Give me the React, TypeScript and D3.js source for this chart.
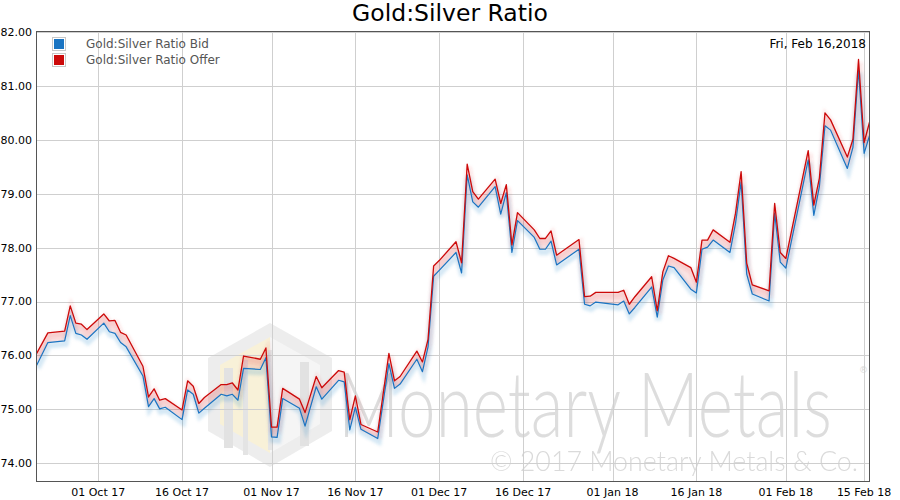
import React from "react";
import * as d3 from "d3";

const dates: string[] = [
  "2017-09-20","2017-09-22","2017-09-25","2017-09-26","2017-09-27","2017-09-28","2017-09-29","2017-10-02","2017-10-03","2017-10-04",
  "2017-10-05","2017-10-06","2017-10-09","2017-10-10","2017-10-11","2017-10-12","2017-10-13","2017-10-16","2017-10-17","2017-10-18",
  "2017-10-19","2017-10-20","2017-10-23","2017-10-24","2017-10-25","2017-10-26","2017-10-27","2017-10-30","2017-10-31","2017-11-01",
  "2017-11-02","2017-11-03","2017-11-06","2017-11-07","2017-11-09","2017-11-10","2017-11-13","2017-11-14","2017-11-15","2017-11-16",
  "2017-11-17","2017-11-20","2017-11-22","2017-11-23","2017-11-24","2017-11-27","2017-11-28","2017-11-29","2017-11-30","2017-12-01",
  "2017-12-04","2017-12-05","2017-12-06","2017-12-07","2017-12-08","2017-12-11","2017-12-12","2017-12-13","2017-12-14","2017-12-15",
  "2017-12-18","2017-12-19","2017-12-20","2017-12-21","2017-12-22","2017-12-26","2017-12-27","2017-12-28","2017-12-29","2018-01-02",
  "2018-01-03","2018-01-04","2018-01-05","2018-01-08","2018-01-09","2018-01-10","2018-01-11","2018-01-12","2018-01-15","2018-01-16",
  "2018-01-17","2018-01-18","2018-01-19","2018-01-22","2018-01-23","2018-01-24","2018-01-25","2018-01-26","2018-01-29","2018-01-30",
  "2018-01-31","2018-02-01","2018-02-05","2018-02-06","2018-02-07","2018-02-08","2018-02-09","2018-02-12","2018-02-13","2018-02-14",
  "2018-02-15","2018-02-16",
];

const offer: number[] = [
  76.04,76.42,76.45,76.92,76.60,76.58,76.48,76.77,76.64,76.65,
  76.43,76.38,75.80,75.23,75.38,75.17,75.20,74.99,75.53,75.43,
  75.11,75.22,75.46,75.46,75.49,75.36,75.99,75.93,76.14,74.67,
  74.67,75.39,75.19,74.94,75.61,75.40,75.72,75.69,74.81,75.25,
  74.72,74.58,76.04,75.53,75.61,76.08,75.88,76.30,77.66,77.76,
  78.11,77.72,79.55,79.04,78.90,79.27,78.82,79.17,78.05,78.65,
  78.33,78.17,78.17,78.31,77.86,78.15,77.09,77.10,77.17,77.17,
  77.21,76.95,77.09,77.46,76.83,77.55,77.85,77.80,77.63,77.36,
  78.14,78.14,78.33,78.10,78.64,79.41,77.71,77.31,77.20,78.82,
  77.91,77.80,79.80,78.79,79.29,80.50,80.37,79.68,80.01,81.49,
  79.95,80.34,
];

const bid: number[] = [
  75.82,76.24,76.27,76.74,76.41,76.38,76.30,76.60,76.44,76.41,
  76.24,76.16,75.62,75.05,75.20,75.01,75.04,74.81,75.36,75.28,
  74.93,75.02,75.28,75.25,75.28,75.17,75.76,75.74,75.96,74.49,
  74.48,75.20,75.02,74.69,75.42,75.19,75.54,75.51,74.62,75.04,
  74.63,74.46,75.85,75.39,75.47,75.93,75.70,76.16,77.47,77.58,
  77.91,77.53,79.35,78.85,78.75,79.13,78.62,79.02,77.91,78.50,
  78.19,77.97,77.97,78.12,77.68,77.97,76.95,76.92,76.99,76.94,
  77.01,76.77,76.89,77.27,76.71,77.40,77.66,77.63,77.23,77.16,
  77.97,78.01,78.14,77.91,78.45,79.22,77.51,77.14,77.01,78.64,
  77.73,77.62,79.63,78.60,79.13,80.26,80.18,79.47,79.86,81.30,
  79.75,80.09,
];

const yTicks: number[] = [74, 75, 76, 77, 78, 79, 80, 81, 82];
const xTicks: string[] = ["2017-10-01","2017-10-16","2017-11-01","2017-11-16","2017-12-01","2017-12-16","2018-01-01","2018-01-16","2018-02-01","2018-02-15"];
const xTickLabels: string[] = ["01 Oct 17","16 Oct 17","01 Nov 17","16 Nov 17","01 Dec 17","16 Dec 17","01 Jan 18","16 Jan 18","01 Feb 18","15 Feb 18"];
const seriesNames: string[] = ["Gold:Silver Ratio Bid", "Gold:Silver Ratio Offer"];
const seriesColors: string[] = ["#1a74c2", "#cc0a0a"];

const parse = d3.utcParse("%Y-%m-%d");
const FONT = "DejaVu Sans, sans-serif";

export default function App() {
  const W = 900, H = 500;
  const left = 36.5, right = 869.5, top = 31.5, bottom = 481.5;
  const x = d3.scaleUtc()
    .domain([parse("2017-09-20")!, parse("2018-02-16")!])
    .range([36.7, 869.7]);
  const y = d3.scaleLinear().domain([74, 82]).range([463.3, 32]);

  const data = dates.map((d, i) => ({ t: parse(d)!, o: offer[i], b: bid[i] }));
  const lineO = d3.line<any>().x(d => x(d.t)).y(d => y(d.o));
  const lineB = d3.line<any>().x(d => x(d.t)).y(d => y(d.b));
  const band = d3.area<any>().x(d => x(d.t)).y0(d => y(d.b)).y1(d => y(d.o));

  const hx = 270, hTop = 323, hBot = 467, hL = 208, hR = 332, hU = 358, hD = 431;
  const hex = `${hx},${hTop} ${hR},${hU} ${hR},${hD} ${hx},${hBot} ${hL},${hD} ${hL},${hU}`;
  const inL = `${hx},${hTop + 14} ${hx},${hBot - 14} ${hL + 12},${hD - 7} ${hL + 12},${hU + 7}`;
  const inR = `${hx},${hTop + 14} ${hR - 12},${hU + 7} ${hR - 12},${hD - 7} ${hx},${hBot - 14}`;

  return (
    <svg width={W} height={H} style={{ position: "absolute", left: 0, top: 0, background: "#fff" }}>
      <defs>
        <clipPath id="plotclip">
          <rect x={left} y={top} width={right - left} height={bottom - top} />
        </clipPath>
        <filter id="blur2" x="-5%" y="-20%" width="110%" height="140%">
          <feGaussianBlur stdDeviation="1.6" />
        </filter>
      </defs>

      <text x={450} y={21} textAnchor="middle" fontFamily={FONT} fontSize={23.5} fill="#000">Gold:Silver Ratio</text>

      <g clipPath="url(#plotclip)">
        <g opacity={0.7}>
          <polygon points={hex} fill="#e6e6e6" />
          <polygon points={inL} fill="#f6ecc8" />
          <polygon points={inR} fill="#f2f2f2" />
          <rect x={224} y={368} width={9} height={80} fill="#d6d6d6" />
          <rect x={243} y={360} width={5} height={95} fill="#d9d9d9" />
          <rect x={268} y={350} width={5} height={100} fill="#dcdcdc" />
          <rect x={300} y={362} width={9} height={84} fill="#d6d6d6" />
        </g>
      </g>
      <g transform="translate(338,437) scale(1,1.45)">
        <text x={0} y={0} fontFamily="Lato, sans-serif" fontWeight={300} fontSize={62}
          textLength={494} lengthAdjust="spacingAndGlyphs" fill="#d8d8d8" opacity={0.85}>Monetary Metals</text>
      </g>
      <text x={859} y={373} fontFamily={FONT} fontSize={9} fill="#d8d8d8">®</text>
      <text x={490} y={471} fontFamily="Lato, sans-serif" fontWeight={300} fontSize={27}
        textLength={368} lengthAdjust="spacingAndGlyphs" fill="#d4d4d4" opacity={0.85}>© 2017 Monetary Metals &amp; Co.</text>

      <g clipPath="url(#plotclip)">
        {yTicks.map(v => (
          <line key={"gy" + v} x1={left} x2={right} y1={Math.round(y(v)) + 0.5} y2={Math.round(y(v)) + 0.5} stroke="#cfcfcf" strokeWidth={1} />
        ))}
        {xTicks.map(s => (
          <line key={"gx" + s} y1={top} y2={bottom} x1={Math.round(x(parse(s)!)) + 0.5} x2={Math.round(x(parse(s)!)) + 0.5} stroke="#cfcfcf" strokeWidth={1} />
        ))}

        <path d={lineB(data)!} fill="none" stroke="#1a74c2" strokeOpacity={0.16} strokeWidth={6} transform="translate(1,3)" filter="url(#blur2)" />
        <path d={band(data)!} fill="#e03030" fillOpacity={0.13} />
        <path d={lineO(data)!} fill="none" stroke="#e03030" strokeOpacity={0.12} strokeWidth={6} transform="translate(1,3)" filter="url(#blur2)" />

        <path d={lineB(data)!} fill="none" stroke={seriesColors[0]} strokeWidth={1.2} strokeLinejoin="round" />
        <path d={lineO(data)!} fill="none" stroke={seriesColors[1]} strokeWidth={1.3} strokeLinejoin="round" />
      </g>

      <rect x={left} y={top} width={right - left} height={bottom - top} fill="none" stroke="#555" strokeWidth={1} />

      {yTicks.map(v => (
        <text key={"ly" + v} x={32} y={y(v)} dy="0.35em" textAnchor="end" fontFamily={FONT} fontSize={11} fill="#000">{v.toFixed(2)}</text>
      ))}
      {xTicks.map((s, i) => (
        <text key={"lx" + s} x={x(parse(s)!)} y={496} textAnchor="middle" fontFamily={FONT} fontSize={11} fill="#000">{xTickLabels[i]}</text>
      ))}

      {seriesNames.map((n, i) => (
        <g key={n}>
          <rect x={52.5} y={37.5 + i * 16} width={13} height={13} fill="#fff" stroke="#c8c8c8" />
          <rect x={54} y={39 + i * 16} width={10} height={10} fill={seriesColors[i]} />
          <text x={86} y={47.5 + i * 16} fontFamily={FONT} fontSize={12} fill="#555">{n}</text>
        </g>
      ))}

      <text x={866} y={47.5} textAnchor="end" fontFamily={FONT} fontSize={12} fill="#000">Fri, Feb 16,2018</text>
    </svg>
  );
}
